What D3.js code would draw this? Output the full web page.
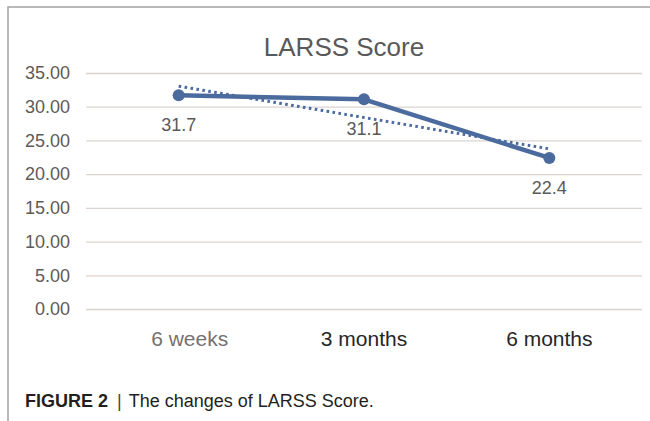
<!DOCTYPE html>
<html>
<head>
<meta charset="utf-8">
<script src="https://cdn.jsdelivr.net/npm/d3@7"></script>
<style>
  html, body { margin: 0; padding: 0; background: #fff; }
  svg { display: block; }
</style>
</head>
<body>
<svg id="chart" width="650" height="421"></svg>
<script>
const categories = ["6 weeks", "3 months", "6 months"];
const scores = [31.7, 31.1, 22.4];
const labels = ["31.7", "31.1", "22.4"];
const yTicks = [0, 5, 10, 15, 20, 25, 30, 35];
const categoryColors = ["#767171", "#262626", "#262626"];
const titleText = "LARSS Score";

(function () {
const svg = d3.select("#chart");
const W = 650, H = 421;
const pLeft = 86, pRight = 642, pTop = 73, pBottom = 309;
const lineColor = "#4b6a9e";
const font = "'Liberation Sans', Arial, sans-serif";

// frame
svg.append("path")
  .attr("d", `M8,${H} L8,7 L${W},7`)
  .attr("fill", "none").attr("stroke", "#a3a3a3").attr("stroke-width", 1.5);

const x = d3.scaleBand().domain(categories).range([pLeft, pRight]);
const y = d3.scaleLinear().domain([0, 35]).range([pBottom, pTop]);

// gridlines
const yAxis = d3.axisLeft(y).tickValues(yTicks).tickSize(-(pRight - pLeft)).tickFormat(d3.format(".2f")).tickPadding(16);
const gy = svg.append("g").attr("transform", `translate(${pLeft},0)`).call(yAxis);
gy.select(".domain").remove();
gy.selectAll(".tick line").attr("stroke", "#d9d4d0").attr("stroke-width", 1.3);
gy.selectAll(".tick text").attr("fill", "#5f5a58").attr("font-size", 18).attr("font-family", font);

// x axis labels
const xAxis = d3.axisBottom(x).tickSize(0).tickPadding(0);
const gx = svg.append("g").attr("transform", `translate(0,${pBottom})`).call(xAxis);
gx.select(".domain").remove();
gx.selectAll(".tick text")
  .attr("dy", null).attr("y", 37)
  .attr("dx", (d, i) => i === 0 ? 11 : 0)
  .attr("font-size", 21).attr("font-family", font)
  .attr("fill", (d, i) => categoryColors[i]);

// title
svg.append("text").attr("x", 344).attr("y", 56).attr("text-anchor", "middle")
  .attr("font-size", 26).attr("font-family", font).attr("fill", "#595959").text(titleText);

const cx = d => x(d) + x.bandwidth() / 2;

// linear trend line (least squares fit of series)
const n = scores.length;
const xs = d3.range(1, n + 1);
const mx = d3.mean(xs), my = d3.mean(scores);
const slope = d3.sum(xs, (v, i) => (v - mx) * (scores[i] - my)) / d3.sum(xs, v => (v - mx) ** 2);
const icpt = my - slope * mx;
const trend = categories.map((c, i) => [cx(c), y(icpt + slope * xs[i])]);
svg.append("path")
  .attr("d", d3.line()([trend[0], trend[n - 1]]))
  .attr("fill", "none").attr("stroke", lineColor).attr("stroke-width", 3)
  .attr("stroke-dasharray", "2.6,3.4");

// main line
const pts = categories.map((c, i) => [cx(c), y(scores[i])]);
svg.append("path").attr("d", d3.line()(pts))
  .attr("fill", "none").attr("stroke", lineColor).attr("stroke-width", 4.5)
  .attr("stroke-linejoin", "round");
svg.selectAll("circle.pt").data(pts).enter().append("circle")
  .attr("cx", d => d[0]).attr("cy", d => d[1]).attr("r", 6).attr("fill", lineColor);

// data labels
svg.selectAll("text.lbl").data(categories).enter().append("text")
  .attr("x", d => cx(d)).attr("y", (d, i) => y(scores[i]) + 36)
  .attr("text-anchor", "middle").attr("font-size", 18).attr("font-family", font)
  .attr("fill", "#595959").text((d, i) => labels[i]);

// caption
const cap = svg.append("text").attr("x", 25).attr("y", 407)
  .attr("font-size", 18).attr("font-family", font).attr("fill", "#231f20");
cap.append("tspan").attr("font-weight", "bold").text("FIGURE 2");
cap.append("tspan").attr("dx", 9).attr("fill", "#444").text("|");
cap.append("tspan").attr("dx", 7).text("The changes of LARSS Score.");
})();
</script>
</body>
</html>
